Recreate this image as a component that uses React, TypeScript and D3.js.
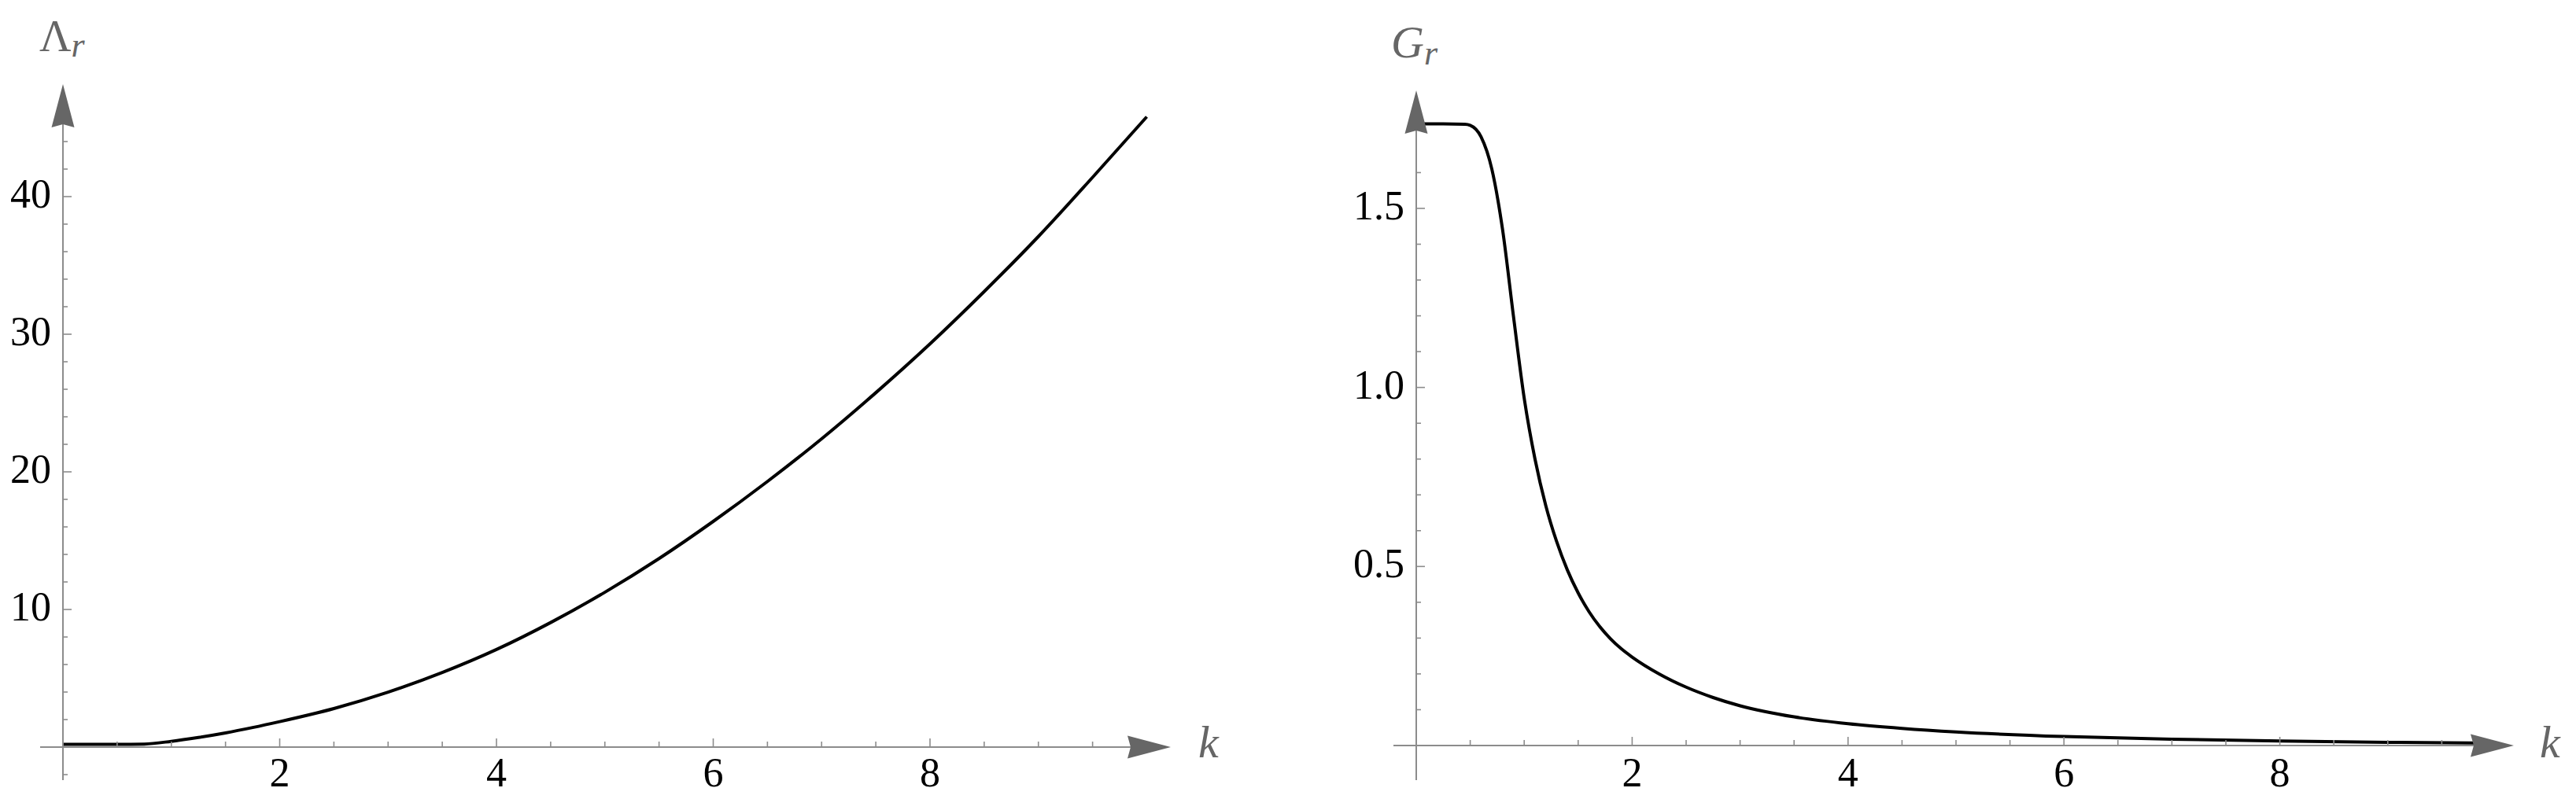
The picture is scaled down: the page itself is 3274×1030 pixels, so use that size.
import React from 'react'
import { scaleLinear, line, curveMonotoneX, range, format } from 'd3'

// Λ_r(k)
const kLambda = [0, 0.25, 0.5, 0.75, 1, 1.25, 1.5, 1.75, 2, 2.5, 3, 3.5, 4, 4.5, 5, 5.5, 6, 6.5, 7, 7.5, 8, 8.5, 9, 9.5, 10]
const lambdaR = [0.2, 0.2, 0.2, 0.22, 0.42, 0.7, 1.03, 1.42, 1.85, 2.8, 3.99, 5.42, 7.09, 9.05, 11.25, 13.7, 16.4, 19.3, 22.4, 25.75, 29.3, 33.1, 37.1, 41.4, 45.8]

// G_r(k)
const kG = [0, 0.25, 0.45, 0.5, 0.6, 0.7, 0.8, 0.9, 1.0, 1.1, 1.2, 1.3, 1.4, 1.5, 1.6, 1.7, 1.8, 1.9, 2.0, 2.25, 2.5, 2.75, 3, 3.5, 4, 4.5, 5, 6, 7, 8, 9, 10]
const gR = [1.736, 1.736, 1.735, 1.732, 1.7, 1.61, 1.44, 1.2, 0.97, 0.8, 0.67, 0.57, 0.49, 0.426, 0.374, 0.332, 0.298, 0.27, 0.247, 0.2, 0.163, 0.134, 0.111, 0.08, 0.061, 0.048, 0.038, 0.025, 0.0175, 0.0125, 0.009, 0.0065]

const kTicks = [2, 4, 6, 8]
const kMinor = range(1, 20).map(i => i / 2)
const lambdaTicks = [10, 20, 30, 40]
const lambdaMinor = range(-1, 23).filter(i => i !== 0).map(i => i * 2)
const gTicks = [0.5, 1.0, 1.5]
const gMinor = range(1, 17).map(i => i / 10)

const AXIS = '#8c8c8c'
const HEAD = '#666666'
const FONT = "'Liberation Serif', Tinos, 'DejaVu Serif', serif"

const Panel = ({ x, y, ks, vs, yMajor, yMinor, fmt, xLeft, xTip, yLow, yTip, label, kLabelX }) => {
    const x0 = x(0)
    const y0 = y(0)
    const path = line().x((d, i) => x(ks[i])).y(d => y(d)).curve(curveMonotoneX)(vs)
    const isMajorK = v => kTicks.includes(v)
    const isMajorY = v => yMajor.some(m => Math.abs(m - v) < 1e-9)

    return (
        <g>
            <path d={path} fill="none" stroke="#000" strokeWidth={4} />

            <line x1={xLeft} y1={y0} x2={xTip - 50} y2={y0} stroke={AXIS} strokeWidth={2} />
            <line x1={x0} y1={yLow} x2={x0} y2={yTip + 50} stroke={AXIS} strokeWidth={2} />

            {kMinor.map(v => (
                <line key={'kx' + v} x1={x(v)} x2={x(v)} y1={y0} y2={y0 - (isMajorK(v) ? 11 : 7)} stroke={AXIS} strokeWidth={1.6} />
            ))}
            {yMinor.map(v => (
                <line key={'ky' + v} x1={x0} x2={x0 + (isMajorY(v) ? 11 : 6)} y1={y(v)} y2={y(v)} stroke={AXIS} strokeWidth={1.6} />
            ))}

            {kTicks.map(v => (
                <text key={'lx' + v} x={x(v)} y={1000} textAnchor="middle" style={{ fontFamily: FONT, fontSize: 52 }} fill="#000">{v}</text>
            ))}
            {yMajor.map(v => (
                <text key={'ly' + v} x={x0 - 15} y={y(v) + 14} textAnchor="end" style={{ fontFamily: FONT, fontSize: 52 }} fill="#000">{fmt(v)}</text>
            ))}

            <path d={`M${xTip},${y0} L${xTip - 55},${y0 - 14.5} L${xTip - 51},${y0} L${xTip - 55},${y0 + 14.5} Z`} fill={HEAD} />
            <path d={`M${x0},${yTip} L${x0 - 14.5},${yTip + 55} L${x0},${yTip + 51} L${x0 + 14.5},${yTip + 55} Z`} fill={HEAD} />

            <text x={kLabelX} y={963} style={{ fontFamily: FONT, fontSize: 58, fontStyle: 'italic' }} fill={HEAD}>k</text>
            {label}
        </g>
    )
}

const App = () => {
    const xL = scaleLinear().domain([0, 10]).range([80, 1457.5])
    const yL = scaleLinear().domain([0, 40]).range([950, 250])
    const xR = scaleLinear().domain([0, 10]).range([1800, 3172])
    const yR = scaleLinear().domain([0, 1.5]).range([948, 265])

    return (
        <svg width={3274} height={1030} style={{ position: 'absolute', left: 0, top: 0, background: '#fff' }}>
            <Panel
                x={xL} y={yL} ks={kLambda} vs={lambdaR}
                yMajor={lambdaTicks} yMinor={lambdaMinor} fmt={v => String(v)}
                xLeft={51} xTip={1488} yLow={992} yTip={107} kLabelX={1523}
                label={
                    <text x={50} y={65} style={{ fontFamily: FONT, fontSize: 56 }} fill={HEAD}>
                        Λ<tspan style={{ fontStyle: 'italic', fontSize: 44 }} dy={7}>r</tspan>
                    </text>
                }
            />
            <Panel
                x={xR} y={yR} ks={kG} vs={gR}
                yMajor={gTicks} yMinor={gMinor} fmt={format('.1f')}
                xLeft={1771} xTip={3195} yLow={992} yTip={115} kLabelX={3228}
                label={
                    <text x={1768} y={73} style={{ fontFamily: FONT, fontSize: 58, fontStyle: 'italic' }} fill={HEAD}>
                        G<tspan style={{ fontSize: 44 }} dy={9}>r</tspan>
                    </text>
                }
            />
        </svg>
    )
}

export default App
